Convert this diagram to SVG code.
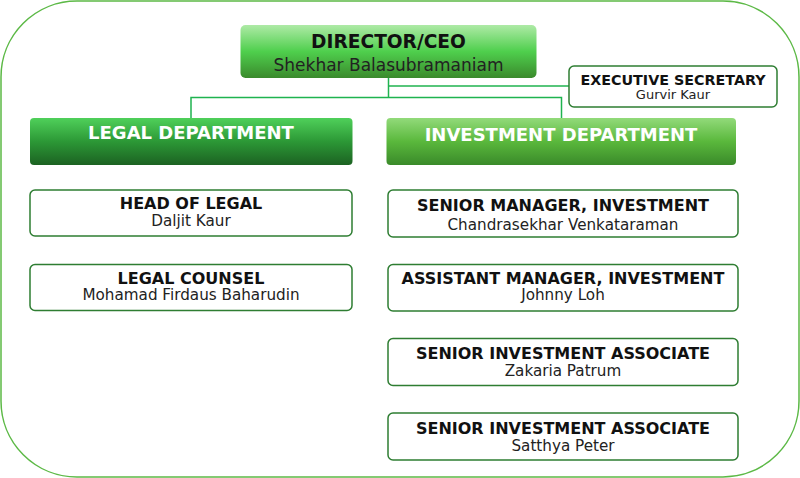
<svg xmlns="http://www.w3.org/2000/svg" width="800" height="478" viewBox="0 0 800 478">
<defs>
<linearGradient id="gCeo" x1="0" y1="0" x2="0" y2="1">
<stop offset="0" stop-color="#aeeaa6"/>
<stop offset="0.5" stop-color="#4fcf4d"/>
<stop offset="1" stop-color="#3a8a2c"/>
</linearGradient>
<linearGradient id="gLegal" x1="0" y1="0" x2="0" y2="1">
<stop offset="0" stop-color="#4fd05a"/>
<stop offset="0.5" stop-color="#2c9836"/>
<stop offset="1" stop-color="#1c6222"/>
</linearGradient>
<linearGradient id="gInv" x1="0" y1="0" x2="0" y2="1">
<stop offset="0" stop-color="#92da7a"/>
<stop offset="0.5" stop-color="#5ab83c"/>
<stop offset="1" stop-color="#3a8a2a"/>
</linearGradient>
</defs>
<style>
.card{fill:#ffffff;stroke:#2e7d32;stroke-width:1.5}
.t{font-family:"DejaVu Sans",sans-serif;font-weight:bold;font-size:16px;fill:#111;text-anchor:middle}
.n{font-family:"DejaVu Sans",sans-serif;font-size:15.2px;fill:#222;text-anchor:middle}
.dept{font-family:"DejaVu Sans",sans-serif;font-weight:bold;font-size:18px;fill:#ffffff;text-anchor:middle}
.conn{fill:none;stroke:#1fb34f;stroke-width:1.5}
</style>
<rect x="1" y="1" width="798" height="476" rx="76" ry="76" fill="#ffffff" stroke="#5cb946" stroke-width="1.5"/>
<g id="connectors">
<path class="conn" d="M388.5 78 V97.5"/>
<path class="conn" d="M388.5 86 H569"/>
<path class="conn" d="M191 119 V97.5 H561.5 V119"/>
</g>
<g id="ceo">
<rect x="240.5" y="25" width="296" height="53" rx="5" fill="url(#gCeo)"/>
<text class="t" x="388.5" y="48" style="font-size:18.6px">DIRECTOR/CEO</text>
<text class="n" x="388.5" y="70.5" style="font-size:17px">Shekhar Balasubramaniam</text>
</g>
<g id="exec-secretary">
<rect class="card" x="569" y="66" width="208" height="41" rx="5"/>
<text class="t" x="673" y="84.5" style="font-size:14.3px">EXECUTIVE SECRETARY</text>
<text class="n" x="673" y="98.5" style="font-size:13px">Gurvir Kaur</text>
</g>
<g id="legal-dept">
<rect x="30" y="118" width="322.5" height="47" rx="4" fill="url(#gLegal)"/>
<text class="dept" x="191" y="139">LEGAL DEPARTMENT</text>
</g>
<g id="investment-dept">
<rect x="386.5" y="118" width="349.5" height="47" rx="4" fill="url(#gInv)"/>
<text class="dept" x="561" y="141">INVESTMENT DEPARTMENT</text>
</g>
<g id="head-of-legal">
<rect class="card" x="30" y="190" width="322" height="46" rx="5"/>
<text class="t" x="191" y="208.5">HEAD OF LEGAL</text>
<text class="n" x="191" y="226">Daljit Kaur</text>
</g>
<g id="legal-counsel">
<rect class="card" x="30" y="264.5" width="322" height="46" rx="5"/>
<text class="t" x="191" y="283.5">LEGAL COUNSEL</text>
<text class="n" x="191" y="300">Mohamad Firdaus Baharudin</text>
</g>
<g id="senior-manager">
<rect class="card" x="388" y="190" width="350" height="47" rx="5"/>
<text class="t" x="563" y="210.5">SENIOR MANAGER, INVESTMENT</text>
<text class="n" x="563" y="229.5">Chandrasekhar Venkataraman</text>
</g>
<g id="assistant-manager">
<rect class="card" x="388" y="264.5" width="350" height="46.5" rx="5"/>
<text class="t" x="563" y="283.5">ASSISTANT MANAGER, INVESTMENT</text>
<text class="n" x="563" y="300">Johnny Loh</text>
</g>
<g id="sia-1">
<rect class="card" x="388" y="338.5" width="350" height="47" rx="5"/>
<text class="t" x="563" y="359">SENIOR INVESTMENT ASSOCIATE</text>
<text class="n" x="563" y="376">Zakaria Patrum</text>
</g>
<g id="sia-2">
<rect class="card" x="388" y="413" width="350" height="47" rx="5"/>
<text class="t" x="563" y="433.5">SENIOR INVESTMENT ASSOCIATE</text>
<text class="n" x="563" y="450.5">Satthya Peter</text>
</g>
</svg>
